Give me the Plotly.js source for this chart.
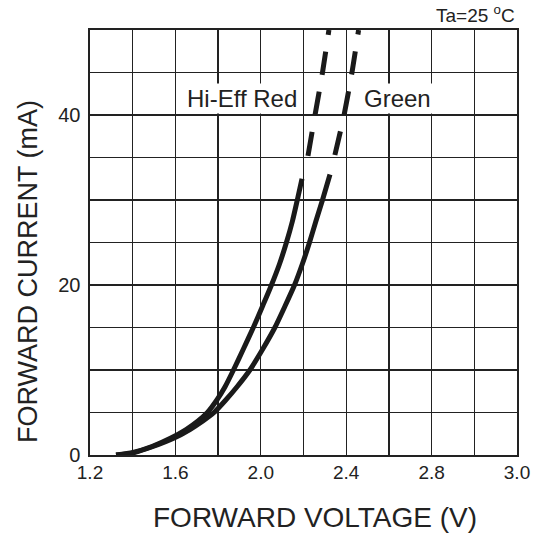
<!DOCTYPE html>
<html>
<head>
<meta charset="utf-8">
<script src="https://cdn.plot.ly/plotly-3.0.1.min.js"></script>
<style>
html,body{margin:0;padding:0;background:#fff;}
#chart{width:535px;height:535px;}
</style>
</head>
<body>
<div id="chart"></div>
<script>
// Hi-Eff Red curve (forward voltage V, forward current mA)
const redSolidV = [1.322, 1.401, 1.490, 1.579, 1.650, 1.706, 1.750, 1.795, 1.832, 1.872, 1.919, 1.965, 2.008, 2.050, 2.088, 2.120, 2.148, 2.171, 2.193];
const redSolidI = [0, 0.3, 1, 2, 3, 4, 5, 6.5, 8, 10, 12.5, 15, 17.5, 20, 22.5, 25, 27.5, 30, 32.5];
const redDashV  = [2.221, 2.254, 2.289, 2.319];
const redDashI  = [35.2, 40, 45, 50];

// Green curve
const greenSolidV = [1.322, 1.401, 1.495, 1.594, 1.668, 1.729, 1.781, 1.837, 1.888, 1.949, 2.010, 2.066, 2.113, 2.158, 2.195, 2.228, 2.258, 2.289, 2.324];
const greenSolidI = [0, 0.25, 1, 2, 3, 4, 5, 6.5, 8, 10, 12.5, 15, 17.5, 20, 22.5, 25, 27.5, 30, 33];
const greenDashV  = [2.347, 2.390, 2.427, 2.458];
const greenDashI  = [35.3, 40, 45, 50];

// Tick labels
const xTickVals = [1.2, 1.6, 2.0, 2.4, 2.8, 3.2];
const xTickText = ["1.2", "1.6", "2.0", "2.4", "2.8", "3.0"];
const yTickVals = [0, 20, 40];
const yTickText = ["0", "20", "40"];

const lineColor = '#1a1a1a';
const FONT = 'Liberation Sans, Arial, sans-serif';

function seg(x, y, dash, name) {
  return {
    x: x, y: y, type: 'scatter', mode: 'lines', name: name,
    line: {color: lineColor, width: 5, shape: 'spline', smoothing: 0.6, dash: dash},
    hoverinfo: 'skip', showlegend: false
  };
}

const traces = [
  seg(redSolidV, redSolidI, 'solid', 'Hi-Eff Red'),
  seg(redDashV, redDashI, '24px,17px', 'Hi-Eff Red'),
  seg(greenSolidV, greenSolidI, 'solid', 'Green'),
  seg(greenDashV, greenDashI, '24px,17px', 'Green')
];

const gridCol = '#222';

const layout = {
  width: 535, height: 535,
  margin: {l: 90, r: 18, t: 30, b: 80},
  paper_bgcolor: '#fff', plot_bgcolor: '#fff',
  font: {family: FONT, color: '#222'},
  showlegend: false,
  xaxis: {
    range: [1.2, 3.2], tickmode: 'array', tickvals: xTickVals, ticktext: xTickText,
    showgrid: true, gridcolor: gridCol, gridwidth: 1.4,
    minor: {tick0: 1.2, dtick: 0.2, showgrid: true, gridcolor: gridCol, gridwidth: 1.4},
    showline: true, linecolor: gridCol, linewidth: 1.6, mirror: true,
    zeroline: false, ticks: '', tickfont: {size: 19, color: '#222'},
    fixedrange: true
  },
  yaxis: {
    range: [0, 50], tickmode: 'array', tickvals: yTickVals, ticktext: yTickText,
    showgrid: true, gridcolor: gridCol, gridwidth: 1.4,
    minor: {tick0: 0, dtick: 5, showgrid: true, gridcolor: gridCol, gridwidth: 1.4},
    showline: true, linecolor: gridCol, linewidth: 1.6, mirror: true,
    zeroline: false, ticks: '', tickfont: {size: 20, color: '#222'},
    ticklabelstandoff: 4,
    fixedrange: true
  },
  annotations: [
    {x: 0.527, y: -0.146, xref: 'paper', yref: 'paper', xanchor: 'center', yanchor: 'middle',
     text: 'FORWARD VOLTAGE (V)', showarrow: false,
     font: {size: 28, color: '#222', family: FONT}},
    {x: -0.145, y: 0.4306, xref: 'paper', yref: 'paper', xanchor: 'center', yanchor: 'middle',
     text: 'FORWARD CURRENT (mA)', showarrow: false, textangle: -90,
     font: {size: 27, color: '#222', family: FONT}},
    {x: 1.912, y: 41.9, xref: 'x', yref: 'y', text: 'Hi-Eff Red', showarrow: false,
     font: {size: 24, color: '#222', family: FONT}, bgcolor: '#fff', borderpad: 1},
    {x: 2.64, y: 41.9, xref: 'x', yref: 'y', text: 'Green', showarrow: false,
     font: {size: 24, color: '#222', family: FONT}, bgcolor: '#fff', borderpad: 1},
    {x: 1, y: 1, xref: 'paper', yref: 'paper', xanchor: 'right', yanchor: 'bottom',
     text: 'Ta=25 <sup>o</sup>C', showarrow: false, yshift: 2,
     font: {size: 19, color: '#222', family: FONT}}
  ]
};

Plotly.newPlot('chart', traces, layout, {staticPlot: true, displayModeBar: false});
</script>
</body>
</html>
